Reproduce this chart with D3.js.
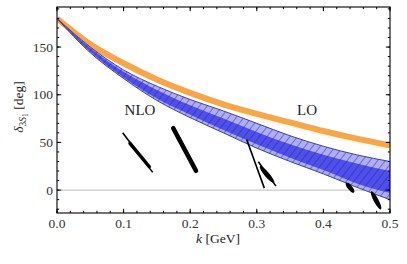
<!DOCTYPE html>
<html>
<head>
<meta charset="utf-8">
<script src="https://cdn.jsdelivr.net/npm/d3@7"></script>
<style>
  body { margin: 0; background: #fff; }
</style>
</head>
<body>
<svg id="chart"></svg>
<script>
var width = 407;
var height = 264;
var margin = {top: 7, right: 17, bottom: 51, left: 57};

// momentum grid (GeV) and phase shifts (deg)
var kGrid      = [0, 0.05, 0.10, 0.15, 0.20, 0.25, 0.30, 0.35, 0.40, 0.45, 0.50];
var loPhase    = [180, 153, 133, 116, 102, 90, 80, 71, 62, 54, 47];
var nloOuterHi = [180, 150, 126, 109, 95, 83, 70, 57, 46, 37, 30];
var nloOuterLo = [180, 144, 117, 94, 76, 60, 44, 30, 17, 3, -10];
var nloInnerHi = [180, 149, 124, 105, 89, 75, 61, 48, 37, 28, 20];
var nloInnerLo = [180, 145, 118, 96, 79, 63, 48, 34, 21, 7, -3];

// lattice-like marks: [k1, delta1, k2, delta2]
var thinSegs  = [[0.0986, 60.2, 0.1437, 18.6], [0.2848, 53.1, 0.3113, 2.1], [0.3023, 29.7, 0.3288, 4.2]];
var thickSegs = [[0.1096, 49.1, 0.1386, 24.5], [0.1746, 64.9, 0.2087, 20.3]];
var blobSegs  = [[0.3056, 24.2, 0.325, 8.4], [0.435, 7.0, 0.445, -1.8], [0.4725, -2.1, 0.4857, -19.2]];

var xTicks = [0, 0.1, 0.2, 0.3, 0.4, 0.5];
var yTicks = [0, 50, 100, 150];

var x = d3.scaleLinear().domain([0, 0.5]).range([margin.left, width - margin.right]);
var y = d3.scaleLinear().domain([-24, 192]).range([height - margin.bottom, margin.top]);

var svg = d3.select("#chart").attr("width", width).attr("height", height);

var defs = svg.append("defs");
defs.append("clipPath").attr("id", "plotclip")
  .append("rect")
    .attr("x", margin.left).attr("y", margin.top)
    .attr("width", width - margin.left - margin.right)
    .attr("height", height - margin.top - margin.bottom);

var pat = defs.append("pattern")
    .attr("id", "hatch")
    .attr("patternUnits", "userSpaceOnUse")
    .attr("width", 6).attr("height", 6)
    .attr("patternTransform", "rotate(38)");
pat.append("line")
    .attr("x1", 0).attr("y1", 0).attr("x2", 0).attr("y2", 6)
    .attr("stroke", "#23237a").attr("stroke-width", 0.9);

var plot = svg.append("g").attr("clip-path", "url(#plotclip)");

// zero line
plot.append("line")
    .attr("x1", x(0)).attr("x2", x(0.5))
    .attr("y1", y(0)).attr("y2", y(0))
    .attr("stroke", "#bdbdbd").attr("stroke-width", 1);

// LO curve
var line = d3.line()
    .x(function(d, i) { return x(kGrid[i]); })
    .y(function(d) { return y(d); })
    .curve(d3.curveMonotoneX);

plot.append("path")
    .attr("d", line(loPhase))
    .attr("fill", "none")
    .attr("stroke", "#fba545")
    .attr("stroke-width", 6);

// NLO bands
function band(hi, lo) {
  return d3.area()
    .x(function(d, i) { return x(kGrid[i]); })
    .y0(function(d, i) { return y(lo[i]); })
    .y1(function(d, i) { return y(hi[i]); })
    .curve(d3.curveMonotoneX)(kGrid);
}

plot.append("path").attr("d", band(nloOuterHi, nloOuterLo)).attr("fill", "#adadf8");
plot.append("path").attr("d", band(nloInnerHi, nloInnerLo)).attr("fill", "#4f4fee");
plot.append("path").attr("d", band(nloOuterHi, nloOuterLo)).attr("fill", "url(#hatch)");

plot.append("path").attr("d", line(nloOuterHi)).attr("fill", "none")
    .attr("stroke", "#2f2f9a").attr("stroke-width", 0.9);
plot.append("path").attr("d", line(nloOuterLo)).attr("fill", "none")
    .attr("stroke", "#2f2f9a").attr("stroke-width", 0.9);

// black marks
plot.selectAll(".thin").data(thinSegs).enter().append("line")
    .attr("x1", function(d) { return x(d[0]); }).attr("y1", function(d) { return y(d[1]); })
    .attr("x2", function(d) { return x(d[2]); }).attr("y2", function(d) { return y(d[3]); })
    .attr("stroke", "#000").attr("stroke-width", 1.6);

plot.selectAll(".thick").data(thickSegs).enter().append("line")
    .attr("x1", function(d) { return x(d[0]); }).attr("y1", function(d) { return y(d[1]); })
    .attr("x2", function(d) { return x(d[2]); }).attr("y2", function(d) { return y(d[3]); })
    .attr("stroke", "#000").attr("stroke-linecap", "round")
    .attr("stroke-width", function(d, i) { return i == 0 ? 3.5 : 4.6; });

plot.selectAll(".blob").data(blobSegs).enter().append("ellipse")
    .attr("transform", function(d) {
      var cx = (x(d[0]) + x(d[2])) / 2, cy = (y(d[1]) + y(d[3])) / 2;
      var a = Math.atan2(y(d[3]) - y(d[1]), x(d[2]) - x(d[0])) * 180 / Math.PI;
      return "translate(" + cx + "," + cy + ") rotate(" + a + ")";
    })
    .attr("rx", function(d) {
      return Math.hypot(x(d[2]) - x(d[0]), y(d[3]) - y(d[1])) / 2 + 1;
    })
    .attr("ry", 2.4)
    .attr("fill", "#000");

// text labels
var serif = "Liberation Serif";

svg.append("text").attr("x", 140).attr("y", 115).attr("text-anchor", "middle")
    .attr("font-family", serif).attr("font-size", 15).attr("fill", "#222").text("NLO");
svg.append("text").attr("x", 307).attr("y", 115).attr("text-anchor", "middle")
    .attr("font-family", serif).attr("font-size", 15).attr("fill", "#222").text("LO");

// frame + ticks
var frame = svg.append("g");
frame.append("rect")
    .attr("x", margin.left).attr("y", margin.top)
    .attr("width", width - margin.left - margin.right)
    .attr("height", height - margin.top - margin.bottom)
    .attr("fill", "none").attr("stroke", "#000").attr("stroke-width", 1.1);

var xMinor = d3.range(0, 0.5001, 0.02);
var yMinor = d3.range(-20, 192, 10);

function vTicks(vals, len) {
  vals.forEach(function(v) {
    frame.append("line").attr("x1", x(v)).attr("x2", x(v))
      .attr("y1", y.range()[0]).attr("y2", y.range()[0] - len).attr("stroke", "#000");
    frame.append("line").attr("x1", x(v)).attr("x2", x(v))
      .attr("y1", y.range()[1]).attr("y2", y.range()[1] + len).attr("stroke", "#000");
  });
}
function hTicks(vals, len) {
  vals.forEach(function(v) {
    frame.append("line").attr("y1", y(v)).attr("y2", y(v))
      .attr("x1", x.range()[0]).attr("x2", x.range()[0] + len).attr("stroke", "#000");
    frame.append("line").attr("y1", y(v)).attr("y2", y(v))
      .attr("x1", x.range()[1]).attr("x2", x.range()[1] - len).attr("stroke", "#000");
  });
}
vTicks(xMinor, 2.2);
vTicks(xTicks, 4.2);
hTicks(yMinor, 2.2);
hTicks(yTicks, 4.2);

svg.selectAll(".xl").data(xTicks).enter().append("text")
    .attr("x", function(d) { return x(d); })
    .attr("y", 228)
    .attr("text-anchor", "middle")
    .attr("font-family", serif).attr("font-size", 13.5).attr("fill", "#333")
    .text(function(d) { return d3.format(".1f")(d); });

svg.selectAll(".yl").data(yTicks).enter().append("text")
    .attr("x", 53)
    .attr("y", function(d) { return y(d) + 4.5; })
    .attr("text-anchor", "end")
    .attr("font-family", serif).attr("font-size", 13.5).attr("fill", "#333")
    .text(function(d) { return d; });

var xl = svg.append("text").attr("x", 218).attr("y", 243)
    .attr("text-anchor", "middle")
    .attr("font-family", serif).attr("font-size", 13.5).attr("fill", "#222");
xl.append("tspan").attr("font-style", "italic").text("k");
xl.append("tspan").text(" [GeV]");

var yl = svg.append("text")
    .attr("transform", "translate(23,107) rotate(-90)")
    .attr("text-anchor", "middle")
    .attr("font-family", serif).attr("font-size", 13.5).attr("fill", "#222");
yl.append("tspan").attr("font-style", "italic").text("δ");
yl.append("tspan").attr("dy", 3).attr("font-size", 9.5).text("3");
yl.append("tspan").attr("font-size", 9.5).attr("font-style", "italic").text("S");
yl.append("tspan").attr("dy", 2).attr("font-size", 7.5).text("1");
yl.append("tspan").attr("dy", -5).text("  [deg]");
</script>
</body>
</html>
